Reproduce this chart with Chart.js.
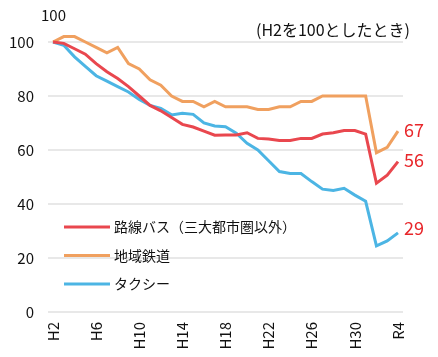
<!DOCTYPE html>
<html>
<head>
<meta charset="utf-8">
<script src="https://cdn.jsdelivr.net/npm/chart.js@4.4.1/dist/chart.umd.min.js"></script>
<style>
html,body{margin:0;padding:0;background:#fff;}
#wrap{width:438px;height:357px;position:relative;}
</style>
</head>
<body>
<div id="wrap"><canvas id="c" width="438" height="357"></canvas></div>
<script>
const categories = ["H2","H3","H4","H5","H6","H7","H8","H9","H10","H11","H12","H13","H14","H15","H16","H17","H18","H19","H20","H21","H22","H23","H24","H25","H26","H27","H28","H29","H30","H31","R2","R3","R4"];
const tickPositions = [0,4,8,12,16,20,24,28,32];
const seriesNames = ["路線バス（三大都市圏以外）","地域鉄道","タクシー"];
const busValues = [100,99.5,97.5,95.5,92,89,86.5,83.5,80,76.5,74.5,72,69.5,68.5,67,65.5,65.6,65.6,66.4,64.3,64.1,63.5,63.5,64.3,64.3,65.9,66.4,67.2,67.2,65.9,47.7,50.7,55.7];
const railValues = [100,102,102,100,98,96,98,92,90,86,84,80,78,78,76,78,76,76,76,75,75,76,76,78,78,80,80,80,80,80,59,61,67];
const taxiValues = [100,98.8,94.5,91,87.5,85.5,83.5,81.5,78.7,76.5,75.4,73,73.6,73.2,70,68.9,68.6,66.2,62.5,60,56,52,51.3,51.3,48.3,45.5,45,45.8,43.3,41,24.5,26.3,29.3];
const endLabels = ["56","67","29"];
const yTicks = [0,20,40,60,80,100];
const unitLabel = "100";
const noteLabel = "(H2を100としたとき)";

const colors = ["#e9474e","#f0a05f","#4cb5e4"];
const FONT = "'Noto Sans CJK JP','Noto Sans',sans-serif";

function toXY(arr){ return arr.map((v,i)=>({x:i,y:v})); }

const overlay = {
  id:'overlay',
  afterDraw(chart){
    const ctx = chart.ctx;
    ctx.save();
    ctx.fillStyle = '#111';
    ctx.font = "15px " + FONT;
    ctx.textBaseline = 'middle';
    ctx.textAlign = 'left';
    ctx.fillText(unitLabel, 41, 15);
    ctx.textAlign = 'right';
    ctx.font = "16px " + FONT;
    ctx.fillText(noteLabel, 410, 30);
    // legend
    const ly = [227, 255.5, 284];
    chart.data.datasets.forEach((ds,i)=>{
      ctx.strokeStyle = ds.borderColor;
      ctx.lineWidth = 3;
      ctx.beginPath();
      ctx.moveTo(64, ly[i]);
      ctx.lineTo(110, ly[i]);
      ctx.stroke();
      ctx.fillStyle = '#111';
      ctx.textAlign = 'left';
      ctx.font = "14px " + FONT;
      ctx.fillText(ds.label, 114, ly[i]);
    });
    // end labels
    ctx.fillStyle = '#e8262a';
    ctx.font = "18px " + FONT;
    ctx.textAlign = 'left';
    chart.data.datasets.forEach((ds,i)=>{
      const meta = chart.getDatasetMeta(i);
      const pt = meta.data[meta.data.length-1];
      const dy = i===2 ? -5 : -1;
      ctx.fillText(endLabels[i], pt.x + 6, pt.y + dy);
    });
    ctx.restore();
  }
};

new Chart(document.getElementById('c'), {
  type:'line',
  data:{
    datasets:[
      {label:seriesNames[0], data:toXY(busValues), borderColor:colors[0]},
      {label:seriesNames[1], data:toXY(railValues), borderColor:colors[1]},
      {label:seriesNames[2], data:toXY(taxiValues), borderColor:colors[2]}
    ].map(d=>Object.assign(d,{borderWidth:3,pointRadius:0,tension:0,fill:false,clip:false,borderJoinStyle:'miter'}))
  },
  options:{
    responsive:false,
    animation:false,
    layout:{padding:{top:42,right:35,left:0,bottom:0}},
    plugins:{legend:{display:false},tooltip:{enabled:false}},
    scales:{
      x:{
        type:'linear',
        min:-0.464, max:32.464,
        afterBuildTicks(scale){ scale.ticks = tickPositions.map(v=>({value:v})); },
        afterFit(scale){ scale.height = 45; },
        grid:{display:false, drawTicks:false},
        border:{display:false},
        ticks:{
          autoSkip:false, minRotation:90, maxRotation:90, padding:10,
          color:'#111', font:{family:FONT, size:15},
          callback:(v)=>categories[v]
        }
      },
      y:{
        min:0, max:100,
        afterBuildTicks(scale){ scale.ticks = yTicks.map(v=>({value:v})); },
        afterFit(scale){ scale.width = 48; },
        grid:{color:'#e8e8e8', lineWidth:2, drawTicks:false},
        border:{display:false},
        ticks:{padding:14, color:'#111', font:{family:FONT, size:15}}
      }
    }
  },
  plugins:[overlay]
});
</script>
</body>
</html>
